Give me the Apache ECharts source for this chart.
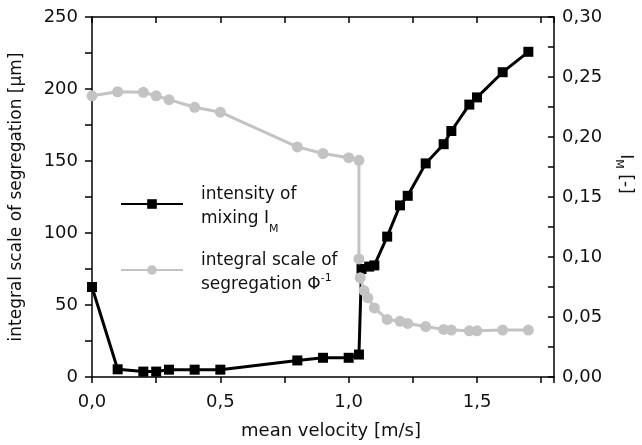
<!DOCTYPE html>
<html>
<head>
<meta charset="utf-8">
<script src="https://cdn.jsdelivr.net/npm/echarts@6/dist/echarts.min.js"></script>
<style>
    html, body { margin: 0; padding: 0; background: #fff; }
    #chart { width: 642px; height: 445px; }
</style>
</head>
<body>
<div id="chart"></div>
<script>
// intensity of mixing I_M (right axis, black squares)
const mixVelocity = [0, 0.1, 0.2, 0.25, 0.3, 0.4, 0.5, 0.8, 0.9, 1.0, 1.04, 1.05, 1.08, 1.1, 1.15, 1.2, 1.23, 1.3, 1.37, 1.4, 1.47, 1.5, 1.6, 1.7];
const mixIntensity = [0.075, 0.0064, 0.0045, 0.0045, 0.0061, 0.0061, 0.0061, 0.0138, 0.016, 0.016, 0.0187, 0.090, 0.092, 0.093, 0.117, 0.143, 0.151, 0.178, 0.194, 0.205, 0.227, 0.233, 0.254, 0.271];

// integral scale of segregation (left axis, grey circles)
const segVelocity = [0, 0.1, 0.2, 0.25, 0.3, 0.4, 0.5, 0.8, 0.9, 1.0, 1.04, 1.04, 1.045, 1.06, 1.075, 1.1, 1.15, 1.2, 1.23, 1.3, 1.37, 1.4, 1.47, 1.5, 1.6, 1.7];
const segScale = [195.3, 198.1, 197.7, 195.3, 192.6, 187.3, 183.9, 159.8, 155.2, 152.3, 150.5, 82, 69, 60, 55, 48, 40, 38.7, 37.2, 35, 33, 32.6, 32.1, 32.1, 32.6, 32.6];

// labelled ticks
const xLabels = [0, 0.5, 1.0, 1.5];
const leftLabels = [0, 50, 100, 150, 200, 250];
const rightLabels = [0, 0.05, 0.10, 0.15, 0.20, 0.25, 0.30];

const seriesNames = ['intensity of mixing', 'integral scale of segregation'];

function pairs(xs, ys) {
    return xs.map((x, i) => [x, ys[i]]);
}

function isLabel(list, v) {
    return list.some(l => Math.abs(l - v) < 1e-6);
}

const font = 'DejaVu Sans';
const black = '#000';
const grey = '#c3c3c3';

const chart = echarts.init(document.getElementById('chart'));

chart.setOption({
    backgroundColor: '#fff',
    animation: false,
    textStyle: { fontFamily: font },
    grid: { left: 88, right: 87, top: 17, bottom: 64 },
    legend: {
        orient: 'vertical',
        left: 115,
        top: 172,
        itemWidth: 62,
        itemHeight: 12,
        itemGap: 8,
        data: seriesNames,
        textStyle: {
            fontFamily: font,
            fontSize: 17,
            color: '#111',
            lineHeight: 24,
            padding: [6, 0, 0, 13],
            rich: {
                sub: { fontSize: 11, verticalAlign: 'bottom', lineHeight: 24, padding: [0, 0, -4, 0] },
                sup: { fontSize: 11, verticalAlign: 'top', lineHeight: 24 }
            }
        },
        formatter: name => name === seriesNames[0]
            ? 'intensity of\nmixing I{sub|M}'
            : 'integral scale of\nsegregation Φ{sup|-1}'
    },
    xAxis: [{
        type: 'value',
        min: 0,
        max: 1.8,
        interval: 0.25,
        name: 'mean velocity [m/s]',
        nameLocation: 'middle',
        nameGap: 45,
        nameTextStyle: { fontSize: 18, color: '#111', fontFamily: font, padding: [0, 0, 0, 16] },
        axisLine: { show: true, onZero: false, lineStyle: { color: black, width: 1.5 } },
        axisTick: { show: true, inside: false, length: 6, lineStyle: { color: black, width: 1.5 } },
        axisLabel: {
            fontSize: 18, color: '#111', margin: 16,
            formatter: v => isLabel(xLabels, v) ? v.toFixed(1).replace('.', ',') : ''
        },
        splitLine: { show: false }
    }, {
        type: 'value',
        position: 'top',
        min: 0,
        max: 1.8,
        interval: 0.25,
        axisLine: { show: true, onZero: false, lineStyle: { color: black, width: 1.5 } },
        axisTick: { show: true, inside: true, length: 6, lineStyle: { color: black, width: 1.5 } },
        axisLabel: { show: false },
        splitLine: { show: false }
    }],
    yAxis: [{
        type: 'value',
        position: 'left',
        min: 0,
        max: 250,
        interval: 25,
        name: 'integral scale of segregation [µm]',
        nameLocation: 'middle',
        nameGap: 67,
        nameTextStyle: { fontSize: 17, color: '#111', fontFamily: font },
        axisLine: { show: true, onZero: false, lineStyle: { color: black, width: 1.5 } },
        axisTick: { show: true, inside: false, length: 7, lineStyle: { color: black, width: 1.5 } },
        axisLabel: {
            fontSize: 18, color: '#111', margin: 14,
            formatter: v => isLabel(leftLabels, v) ? String(v) : ''
        },
        splitLine: { show: false }
    }, {
        type: 'value',
        position: 'right',
        min: 0,
        max: 0.3,
        interval: 0.025,
        name: 'I{sub|M} [-]',
        nameLocation: 'middle',
        nameGap: 62,
        nameRotate: -90,
        nameTextStyle: {
            fontSize: 17, color: '#111', fontFamily: font,
            padding: [0, 46, 0, 0],
            rich: { sub: { fontSize: 11, verticalAlign: 'bottom', padding: [0, 0, -4, 0] } }
        },
        axisLine: { show: true, onZero: false, lineStyle: { color: black, width: 1.5 } },
        axisTick: { show: true, inside: true, length: 6, lineStyle: { color: black, width: 1.5 } },
        axisLabel: {
            fontSize: 18, color: '#111', margin: 8,
            formatter: v => isLabel(rightLabels, v) ? v.toFixed(2).replace('.', ',') : ''
        },
        splitLine: { show: false }
    }],
    series: [{
        name: seriesNames[0],
        type: 'line',
        xAxisIndex: 0,
        yAxisIndex: 1,
        data: pairs(mixVelocity, mixIntensity),
        symbol: 'rect',
        symbolSize: 10,
        lineStyle: { color: black, width: 3 },
        itemStyle: { color: black }
    }, {
        name: seriesNames[1],
        type: 'line',
        xAxisIndex: 0,
        yAxisIndex: 0,
        data: pairs(segVelocity, segScale),
        symbol: 'circle',
        symbolSize: 11,
        lineStyle: { color: grey, width: 3 },
        itemStyle: { color: grey }
    }]
});

window.addEventListener('resize', () => chart.resize());
</script>
</body>
</html>
